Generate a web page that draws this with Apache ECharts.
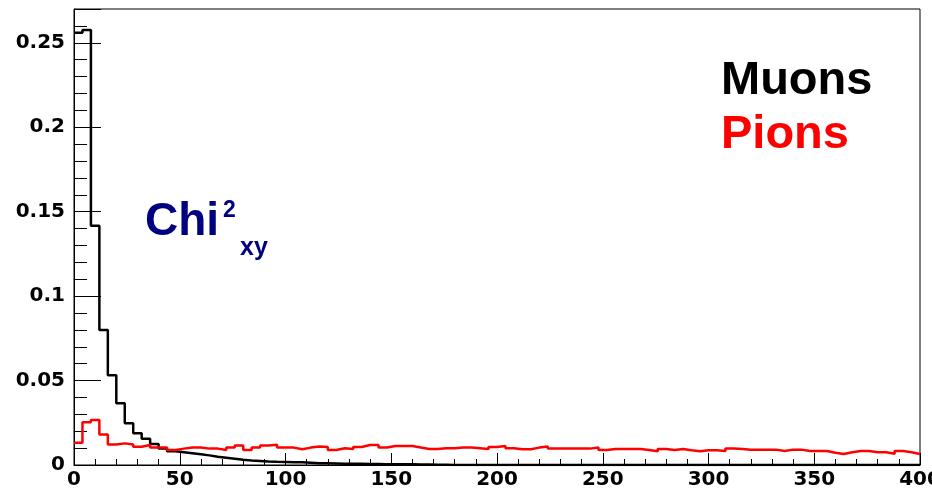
<!DOCTYPE html>
<html>
<head>
<meta charset="utf-8">
<title>Chi2 xy - Muons / Pions</title>
<script src="https://cdn.jsdelivr.net/npm/echarts@6/dist/echarts.min.js"></script>
<style>
  html, body { margin: 0; padding: 0; background: #fff; }
  #chart { width: 932px; height: 493px; }
</style>
</head>
<body>
<div id="chart"></div>
<script>
// Histogram binning: 100 bins over [0, 400]
const xMin = 0;
const xMax = 400;
const nBins = 100;

// Normalised bin contents, muon sample
const muons = [
  0.2560, 0.2575, 0.1417, 0.0799, 0.0531, 0.0365, 0.0247, 0.0188, 0.0155, 0.0125,
  0.0097, 0.0081, 0.0075, 0.0069, 0.0063, 0.0057, 0.0049, 0.0043, 0.0037, 0.0031,
  0.0026, 0.0024, 0.0021, 0.0019, 0.0018, 0.0017, 0.0016, 0.0014, 0.0011, 0.0010,
  0.0009, 0.0008, 0.0007, 0.0007, 0.0006, 0.0006, 0.0005, 0.0005, 0.0004, 0.0004,
  0.0003, 0.0003, 0.0002, 0.0002, 0, 0, 0, 0, 0, 0,
  0, 0, 0, 0, 0, 0, 0, 0, 0, 0,
  0, 0, 0, 0, 0, 0, 0, 0, 0, 0,
  0, 0, 0, 0, 0, 0, 0, 0, 0, 0,
  0, 0, 0, 0, 0, 0, 0, 0, 0, 0,
  0, 0, 0, 0, 0, 0, 0, 0, 0, 0
];

// Normalised bin contents, pion sample
const pions = [
  0.0132, 0.0253, 0.0266, 0.0180, 0.0122, 0.0128, 0.0122, 0.0108, 0.0118, 0.0103,
  0.0103, 0.0089, 0.0097, 0.0103, 0.0103, 0.0097, 0.0097, 0.0089, 0.0103, 0.0116,
  0.0089, 0.0103, 0.0116, 0.0120, 0.0103, 0.0103, 0.0093, 0.0103, 0.0110, 0.0107,
  0.0089, 0.0099, 0.0095, 0.0107, 0.0118, 0.0118, 0.0103, 0.0112, 0.0112, 0.0112,
  0.0103, 0.0095, 0.0095, 0.0099, 0.0099, 0.0103, 0.0103, 0.0099, 0.0095, 0.0107,
  0.0112, 0.0099, 0.0093, 0.0093, 0.0103, 0.0109, 0.0097, 0.0097, 0.0097, 0.0097,
  0.0097, 0.0103, 0.0089, 0.0095, 0.0095, 0.0095, 0.0095, 0.0089, 0.0081, 0.0095,
  0.0089, 0.0095, 0.0087, 0.0081, 0.0087, 0.0087, 0.0083, 0.0097, 0.0095, 0.0091,
  0.0091, 0.0091, 0.0091, 0.0083, 0.0091, 0.0091, 0.0083, 0.0083, 0.0083, 0.0073,
  0.0065, 0.0075, 0.0083, 0.0083, 0.0075, 0.0075, 0.0067, 0.0083, 0.0075, 0.0065
];

// Axis ranges and tick steps
const yMax = 0.27;
const yMajorStep = 0.05;
const yMinorStep = 0.01;
const xMajorStep = 50;

// Turn bin contents into step-line points at the bin edges
function histPoints(values) {
  const w = (xMax - xMin) / nBins;
  const pts = values.map((v, i) => [xMin + i * w, v]);
  pts.push([xMax, values[values.length - 1]]);
  return pts;
}

const axisFont = {
  fontFamily: 'DejaVu Sans',
  fontWeight: 'bold',
  fontSize: 20,
  color: '#000'
};

const chart = echarts.init(document.getElementById('chart'), null, { renderer: 'canvas' });

chart.setOption({
  animation: false,
  backgroundColor: '#fff',
  grid: {
    left: 74, right: 12, top: 9, bottom: 28,
    outerBoundsMode: 'none',
    containLabel: false,
    show: true, borderColor: '#000', borderWidth: 1,
    backgroundColor: 'transparent'
  },
  xAxis: {
    type: 'value',
    min: xMin, max: xMax, interval: xMajorStep,
    axisLine: { show: true, onZero: false, lineStyle: { color: '#000', width: 1 } },
    axisTick: { show: true, inside: true, length: 12, lineStyle: { color: '#000', width: 1 } },
    minorTick: { show: true, splitNumber: 5, length: 6, lineStyle: { color: '#000', width: 1 } },
    splitLine: { show: false },
    axisLabel: Object.assign({ margin: 5, showMaxLabel: true, hideOverlap: false }, axisFont)
  },
  yAxis: [
    {
      type: 'value',
      position: 'left',
      min: 0, max: yMax, interval: yMajorStep,
      axisLine: { show: true, onZero: false, lineStyle: { color: '#000', width: 1 } },
      axisTick: { show: true, inside: true, length: 27, lineStyle: { color: '#000', width: 1 } },
      splitLine: { show: false },
      axisLabel: Object.assign({
        margin: 9,
        formatter: function (v) {
          const k = v / yMajorStep;
          if (Math.abs(k - Math.round(k)) > 1e-6) return '';
          return String(parseFloat(v.toFixed(2)));
        }
      }, axisFont)
    },
    {
      type: 'value',
      position: 'left',
      min: 0, max: yMax, interval: yMinorStep,
      axisLine: { show: false },
      axisTick: { show: true, inside: true, length: 13, lineStyle: { color: '#000', width: 1 } },
      splitLine: { show: false },
      axisLabel: { show: false }
    }
  ],
  series: [
    {
      name: 'Muons',
      type: 'line',
      step: 'end',
      yAxisIndex: 0,
      symbol: 'none',
      data: histPoints(muons),
      lineStyle: { color: '#000', width: 2.5 },
      z: 2
    },
    {
      name: 'Pions',
      type: 'line',
      step: 'end',
      yAxisIndex: 0,
      symbol: 'none',
      data: histPoints(pions),
      lineStyle: { color: '#ff0000', width: 2.5 },
      z: 3
    }
  ],
  graphic: [
    {
      type: 'text', left: 721, top: 58,
      style: { text: 'Muons', fill: '#000', font: 'bold 47px "Liberation Sans", Arial, sans-serif' }
    },
    {
      type: 'text', left: 721, top: 112,
      style: { text: 'Pions', fill: '#ff0000', font: 'bold 47px "Liberation Sans", Arial, sans-serif' }
    },
    {
      type: 'text', left: 145, top: 199.5,
      style: { text: 'Chi', fill: '#000080', font: 'bold 46px "Liberation Sans", Arial, sans-serif' }
    },
    {
      type: 'text', left: 223, top: 199,
      style: { text: '2', fill: '#000080', font: 'bold 23px "Liberation Sans", Arial, sans-serif' }
    },
    {
      type: 'text', left: 240, top: 236,
      style: { text: 'xy', fill: '#000080', font: 'bold 25px "Liberation Sans", Arial, sans-serif' }
    }
  ]
});
</script>
</body>
</html>
